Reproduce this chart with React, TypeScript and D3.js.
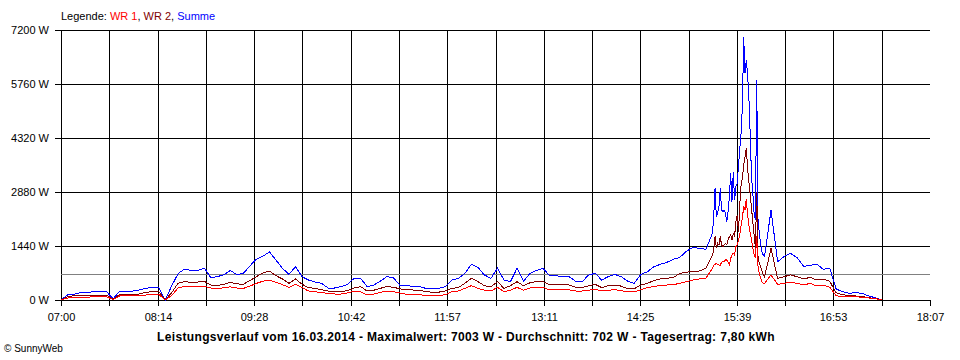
import * as d3 from "d3";

// time stamps: 5 min until 15:15, 1 min around the peak, 5 min afterwards
const times = [
  ..."07:00 07:05 07:10 07:15 07:20 07:25 07:30 07:35 07:40 07:45 07:50 07:55".split(" "),
  ..."08:00 08:05 08:10 08:15 08:20 08:25 08:30 08:35 08:40 08:45 08:50 08:55".split(" "),
  ..."09:00 09:05 09:10 09:15 09:20 09:25 09:30 09:35 09:40 09:45 09:50 09:55".split(" "),
  ..."10:00 10:05 10:10 10:15 10:20 10:25 10:30 10:35 10:40 10:45 10:50 10:55".split(" "),
  ..."11:00 11:05 11:10 11:15 11:20 11:25 11:30 11:35 11:40 11:45 11:50 11:55".split(" "),
  ..."12:00 12:05 12:10 12:15 12:20 12:25 12:30 12:35 12:40 12:45 12:50 12:55".split(" "),
  ..."13:00 13:05 13:10 13:15 13:20 13:25 13:30 13:35 13:40 13:45 13:50 13:55".split(" "),
  ..."14:00 14:05 14:10 14:15 14:20 14:25 14:30 14:35 14:40 14:45 14:50 14:55".split(" "),
  ..."15:00 15:05 15:10 15:15".split(" "),
  ..."15:20 15:21 15:22 15:23 15:24 15:25 15:26 15:27 15:28 15:29".split(" "),
  ..."15:30 15:31 15:32 15:33 15:34 15:35 15:36 15:37 15:38 15:39".split(" "),
  ..."15:40 15:41 15:42 15:43 15:44 15:45 15:46 15:47 15:48 15:49".split(" "),
  ..."15:50 15:51 15:52 15:53 15:54 15:55 15:56 15:57 15:58 15:59 16:00".split(" "),
  ..."16:05 16:10 16:15 16:20 16:25 16:30 16:35 16:40 16:45 16:50 16:55".split(" "),
  ..."17:00 17:05 17:10 17:15 17:20 17:25 17:30".split(" "),
];

const summe = [
  0, 133, 151, 196, 196, 222, 222, 222, 30, 240,
  240, 240, 267, 311, 338, 330, 0, 380, 711, 827,
  787, 787, 850, 596, 622, 676, 787, 676, 711, 910,
  1090, 1170, 1280, 1067, 844, 684, 889, 622, 533, 480,
  444, 320, 320, 356, 418, 578, 578, 356, 400, 500,
  620, 600, 400, 400, 356, 356, 311, 311, 311, 356,
  533, 578, 711, 951, 870, 667, 578, 844, 533, 489,
  844, 500, 711, 787, 844, 649, 649, 622, 622, 500,
  489, 667, 711, 533, 622, 684, 622, 500, 444, 684,
  750, 889, 951, 1004, 1084, 1138, 1300, 1400, 1380, 1350,
  1778, 2222, 2978, 2222, 2311, 2489, 2978, 2400, 2356, 2400,
  2311, 2089, 2356, 2756, 3378, 2622, 3422, 2667, 3022, 3111,
  3556, 4044, 4444, 5156, 7003, 6044, 6400, 6000, 5400, 4400,
  3300, 2853, 2311, 2133, 5867, 2133, 1778, 1511, 1289, 1200, 1156,
  2400, 1022, 1156, 1244, 1130, 900, 920, 960, 820, 850, 290,
  222, 178, 196, 178, 107, 60, 0,
];

const wr2 = [
  0, 89, 116, 116, 116, 133, 133, 133, 20, 151,
  151, 151, 160, 204, 222, 222, 0, 200, 450, 489,
  470, 480, 500, 400, 385, 420, 470, 430, 420, 520,
  622, 720, 770, 650, 560, 444, 560, 420, 329, 310,
  276, 240, 222, 222, 250, 320, 356, 240, 260, 311,
  356, 340, 300, 267, 267, 250, 230, 204, 210, 240,
  311, 330, 444, 578, 489, 380, 356, 489, 311, 380,
  489, 380, 460, 489, 489, 410, 420, 410, 400, 340,
  329, 380, 420, 329, 380, 400, 370, 300, 300, 400,
  440, 520, 560, 578, 600, 711, 738, 773, 773, 844,
  1200, 1333, 1700, 1378, 1511, 1467, 1700, 1467, 1422, 1467,
  1511, 1467, 1600, 1689, 1733, 1600, 1778, 1689, 2089, 2267,
  1822, 2533, 3067, 3244, 3600, 3800, 4050, 3511, 3156, 2800,
  2444, 2089, 1733, 1378, 2889, 1156, 978, 889, 773, 684, 622,
  1378, 578, 622, 670, 620, 560, 604, 533, 560, 500, 190,
  140, 120, 107, 95, 62, 40, 0,
];

const wr1 = [
  0, 50, 71, 71, 71, 89, 89, 89, 10, 107,
  107, 107, 115, 133, 151, 151, 0, 120, 330, 356,
  350, 360, 370, 320, 300, 330, 350, 320, 310, 370,
  444, 500, 530, 470, 410, 338, 420, 330, 240, 220,
  196, 175, 160, 160, 190, 240, 222, 133, 160, 204,
  240, 220, 190, 151, 151, 140, 125, 116, 120, 140,
  222, 240, 311, 382, 311, 260, 240, 338, 222, 260,
  338, 260, 320, 338, 338, 270, 280, 275, 270, 240,
  240, 260, 290, 240, 260, 275, 250, 215, 215, 275,
  330, 360, 390, 400, 410, 444, 489, 533, 560, 578,
  844, 933, 951, 978, 951, 933, 933, 1004, 1031, 1031,
  1067, 1067, 1004, 933, 1111, 1200, 1244, 1200, 1422, 1467,
  1600, 1733, 2000, 2178, 2500, 2400, 2700, 2267, 2000, 1778,
  1600, 1378, 1200, 1111, 1700, 889, 711, 578, 489, 444, 444,
  667, 418, 444, 480, 444, 400, 444, 373, 400, 340, 110,
  95, 89, 85, 75, 55, 35, 0,
];

const xTickLabels = ["07:00", "08:14", "09:28", "10:42", "11:57", "13:11", "14:25", "15:39", "16:53", "18:07"];
const yTicks = [0, 1440, 2880, 4320, 5760, 7200];
const average = 702;
const title =
  "Leistungsverlauf vom 16.03.2014 - Maximalwert: 7003 W - Durchschnitt: 702 W - Tagesertrag: 7,80 kWh";

const series = [
  { name: "Summe", values: summe, color: "#0000ff" },
  { name: "WR 2", values: wr2, color: "#800000" },
  { name: "WR 1", values: wr1, color: "#ff0000" },
];

const toMin = (t: string) => {
  const [h, m] = t.split(":").map(Number);
  return h * 60 + m - 7 * 60;
};

const width = 960;
const height = 360;
const left = 61;
const right = 930;
const top = 30;
const bottom = 300;
const span = toMin("18:07");
const font = "'Liberation Sans', Arial, sans-serif";

export default function App() {
  const x = d3.scaleLinear().domain([0, span]).range([left, right]);
  const y = d3.scaleLinear().domain([0, 7200]).range([bottom, top]);

  const line = d3
    .line<number>()
    .x((_, i) => x(toMin(times[i])))
    .y((d) => y(d));

  const grid = d3.range(19).map((i) => Math.round(x((i * span) / 18)) + 0.5);

  return (
    <svg
      width={width}
      height={height}
      style={{ position: "absolute", left: 0, top: 0, background: "#fff" }}
      fontFamily={font}
    >
      <text x={61} y={20} fontSize={11}>
        <tspan fill="#000">Legende: </tspan>
        <tspan fill="#ff0000">WR 1</tspan>
        <tspan fill="#000">, </tspan>
        <tspan fill="#800000">WR 2</tspan>
        <tspan fill="#000">, </tspan>
        <tspan fill="#0000ff">Summe</tspan>
      </text>

      <g shapeRendering="crispEdges" stroke="#000" strokeWidth={1}>
        {yTicks.map((v) => (
          <line key={v} x1={left - 6} x2={right} y1={Math.round(y(v)) + 0.5} y2={Math.round(y(v)) + 0.5} />
        ))}
        {grid.map((gx, i) => (
          <line key={i} x1={gx} x2={gx} y1={i === 18 ? bottom : top} y2={bottom + 6} />
        ))}
      </g>

      <line
        x1={left}
        x2={right}
        y1={Math.round(y(average)) + 0.5}
        y2={Math.round(y(average)) + 0.5}
        stroke="#808080"
        shapeRendering="crispEdges"
      />

      {series.map((s) => (
        <path
          key={s.name}
          d={line(s.values) ?? ""}
          fill="none"
          stroke={s.color}
          strokeWidth={1}
          shapeRendering="crispEdges"
        />
      ))}

      {yTicks.map((v) => (
        <text key={v} x={49} y={y(v) + 4} fontSize={11} textAnchor="end">
          {`${v} W`}
        </text>
      ))}
      {xTickLabels.map((t, i) => (
        <text key={t} x={grid[i * 2]} y={321} fontSize={11} textAnchor="middle">
          {t}
        </text>
      ))}

      <text x={466} y={341} fontSize={12} fontWeight="bold" letterSpacing={0.35} textAnchor="middle">
        {title}
      </text>
      <text x={4} y={352} fontSize={10}>
        © SunnyWeb
      </text>
    </svg>
  );
}
